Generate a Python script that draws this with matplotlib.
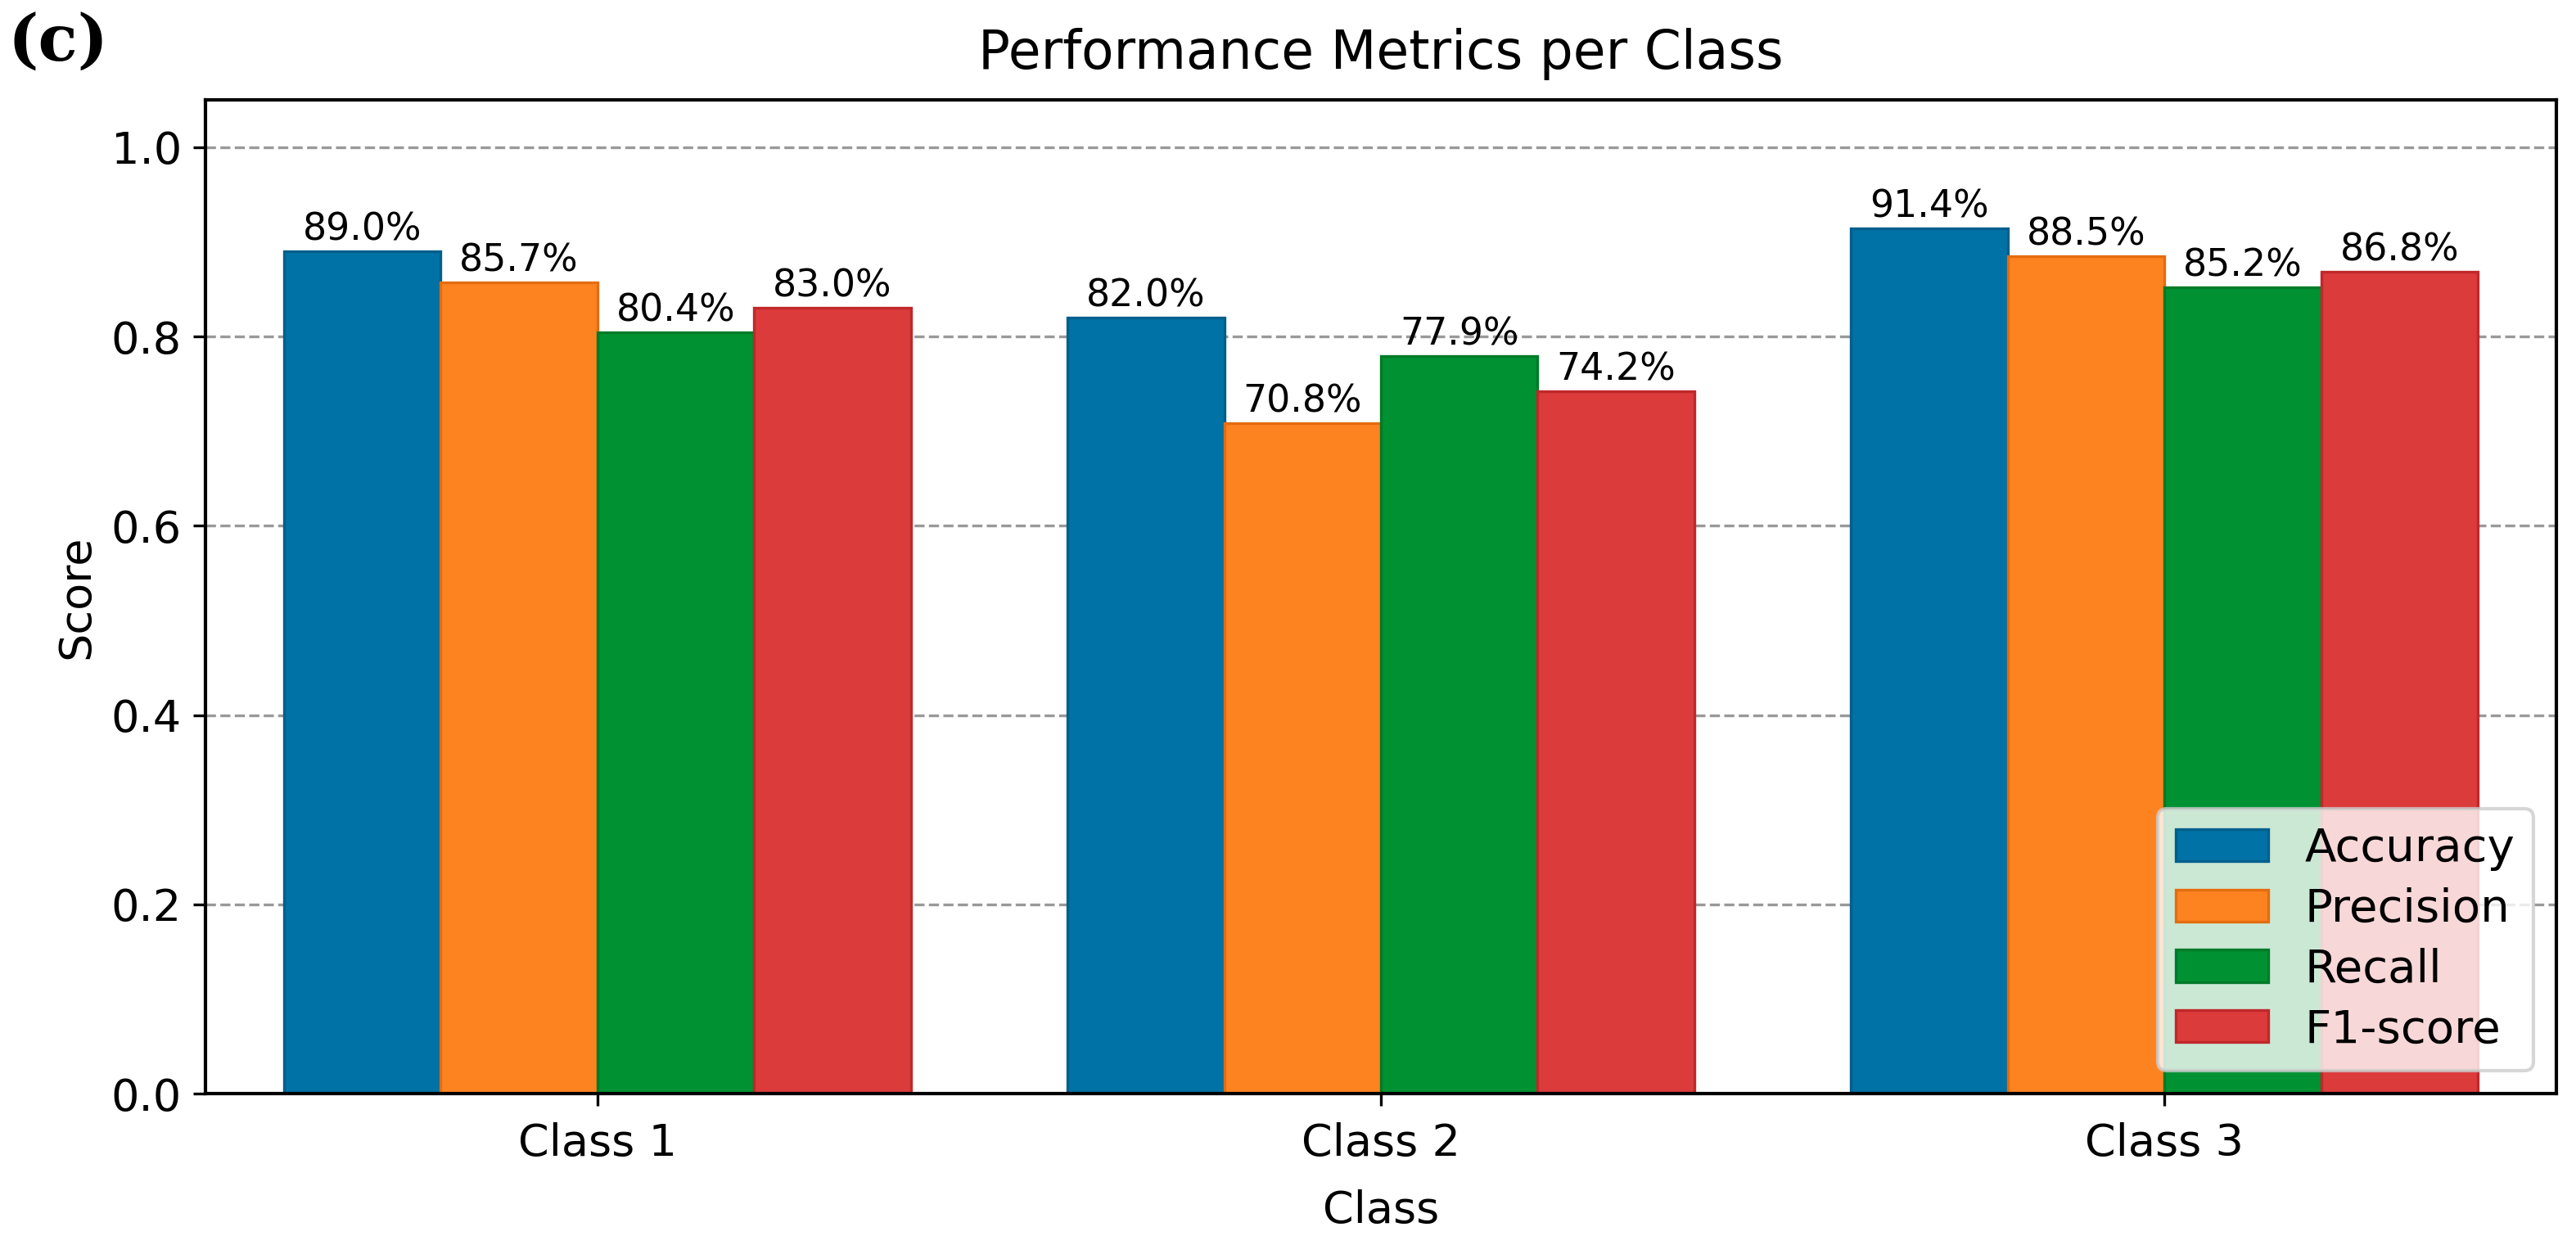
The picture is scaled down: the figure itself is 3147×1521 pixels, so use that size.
import numpy as np
import matplotlib
matplotlib.use("Agg")
import matplotlib.pyplot as plt

classes = ["Class 1", "Class 2", "Class 3"]
metrics = ["Accuracy", "Precision", "Recall", "F1-score"]
accuracy = [0.890, 0.820, 0.914]
precision = [0.857, 0.708, 0.885]
recall = [0.804, 0.779, 0.852]
f1_score = [0.830, 0.742, 0.868]

colors = ["#0072a5", "#fd8320", "#009232", "#dc3b3b"]
edges = ["#005f8c", "#e46c10", "#007a28", "#c0282a"]

plt.rcParams['font.family'] = ['DejaVu Sans']
fig = plt.figure(figsize=(3147/300, 1521/300), dpi=300)
ax = fig.add_axes([251/3147, 1-1336/1521, (3123-251)/3147, (1336-122)/1521])

x = np.arange(len(classes))
width = 0.2
series = [accuracy, precision, recall, f1_score]
for i, (name, vals) in enumerate(zip(metrics, series)):
    bars = ax.bar(x + (i - 1.5) * width, vals, width, label=name,
                  color=colors[i], edgecolor=edges[i], linewidth=0.8, zorder=2)
    for b, v in zip(bars, vals):
        ax.text(b.get_x() + b.get_width()/2, v + 0.003, f"{v*100:.1f}%",
                ha="center", va="bottom", fontsize=11)

ax.set_xlim(-0.5, 2.5)
ax.set_ylim(0, 1.05)
ax.set_xticks(x)
ax.set_xticklabels(classes, fontsize=13)
ax.set_yticks([0.0, 0.2, 0.4, 0.6, 0.8, 1.0])
ax.tick_params(axis='y', labelsize=13)
ax.tick_params(axis='x', pad=5)
ax.yaxis.grid(True, linestyle='--', color='#999999', linewidth=0.8, zorder=0)
ax.set_axisbelow(True)
ax.set_xlabel("Class", fontsize=13, labelpad=7)
ax.set_ylabel("Score", fontsize=13)
ax.set_title("Performance Metrics per Class", fontsize=15.5, pad=9)
for s in ax.spines.values():
    s.set_linewidth(1.0)
ax.legend(loc="lower right", fontsize=13.5, framealpha=0.8, labelspacing=0.35)

fig.text(0.003, 0.99, "(c)", fontsize=19, fontweight="bold", family="DejaVu Serif",
         ha="left", va="top")

fig.savefig("out.png", dpi=300)
